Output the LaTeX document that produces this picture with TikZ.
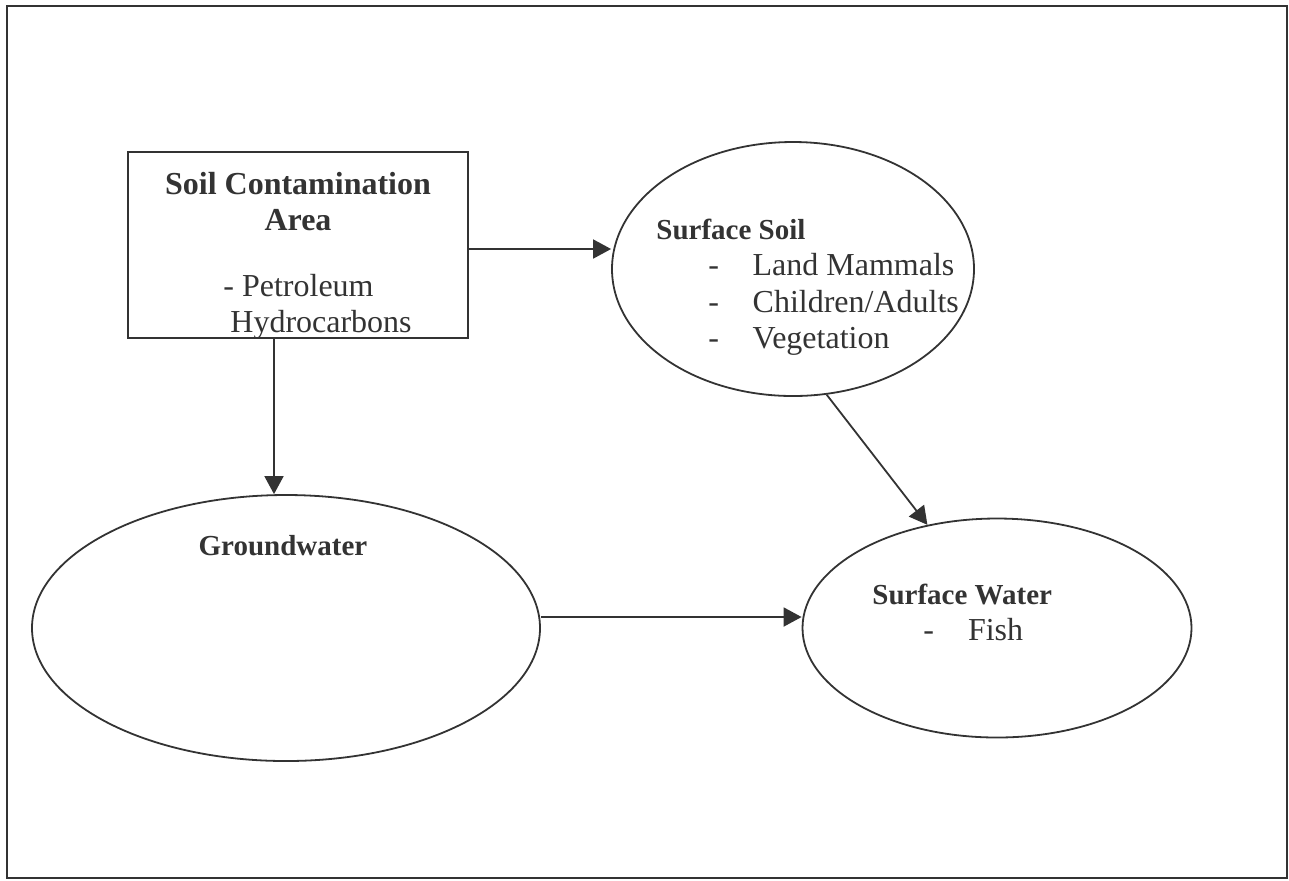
\documentclass[tikz,border=0pt]{standalone}
\usepackage{fontspec}
\setmainfont{Liberation Serif}
\usetikzlibrary{arrows.meta, positioning, shapes.geometric, calc}
\definecolor{inkGray}{HTML}{333333}
\newcommand{\itemdash}{-\hspace{16.8pt}}

\tikzset{
  frameline/.style={draw=inkGray, line width=0.9pt},
  srcbox/.style={rectangle, draw=inkGray, line width=0.9pt, inner sep=0pt},
  medium/.style={ellipse, draw=inkGray, line width=0.9pt, inner sep=0pt},
  head/.style={inner sep=0pt, text=inkGray, font=\fontsize{14.5}{17}\selectfont\bfseries},
  txt/.style={inner sep=0pt, text=inkGray, font=\fontsize{16}{18}\selectfont},
  flow/.style={draw=inkGray, line width=0.9pt, -{Triangle[length=9pt, width=9.5pt]}}
}

\begin{document}
\begin{tikzpicture}[x=0.5pt, y=-0.5pt]
        \useasboundingbox (0,0) rectangle (1289,880);
        % marco exterior
        \draw[frameline] (7,6) rectangle (1287,878);
        % fuente de contaminacion
        \node[srcbox, minimum width=170pt, minimum height=93pt] (src) at (298,245) {};
        \node[head, font=\fontsize{16}{18}\selectfont\bfseries, anchor=base] (srcT1) at (298,194) {Soil Contamination};
        \node[head, font=\fontsize{16}{18}\selectfont\bfseries, anchor=base] (srcT2) at (298,230) {Area};
        \node[txt, anchor=base west] (srcL1) at (223,296) {- Petroleum};
        \node[txt, anchor=base west] (srcL2) at (230,332) {Hydrocarbons};
        % medios
        \node[medium, minimum width=181pt, minimum height=127pt] (soil) at (793,269) {};
        \node[medium, minimum width=254pt, minimum height=133pt] (gw) at (286,628) {};
        \node[medium, minimum width=194.5pt, minimum height=109.5pt] (water) at (997,628) {};
        % textos de los medios
        \node[head, anchor=base west] (soilT) at (656,239) {Surface Soil};
        \node[txt, anchor=base west] (soilL1) at (708,275) {\itemdash Land Mammals};
        \node[txt, anchor=base west] (soilL2) at (708,312) {\itemdash Children/Adults};
        \node[txt, anchor=base west] (soilL3) at (708,348) {\itemdash Vegetation};
        \node[head, anchor=base] (gwT) at (283,555) {Groundwater};
        \node[head, anchor=base west] (waterT) at (872,604) {Surface Water};
        \node[txt, anchor=base west] (waterL1) at (923,640) {-\hspace{17pt}Fish};
        % flechas
        \draw[flow] ([yshift=-2pt]src.east) -- ([yshift=-2pt]src.east -| soil.west);
        \draw[flow] ([xshift=-12pt]src.south) -- ([xshift=-12pt]src.south |- gw.north);
        \draw[flow] ([yshift=5.5pt]gw.east) -- ([yshift=5.5pt]gw.east -| water.west);
        \draw[flow] (soil.-75) -- (water.124);
      \end{tikzpicture}
\end{document}
